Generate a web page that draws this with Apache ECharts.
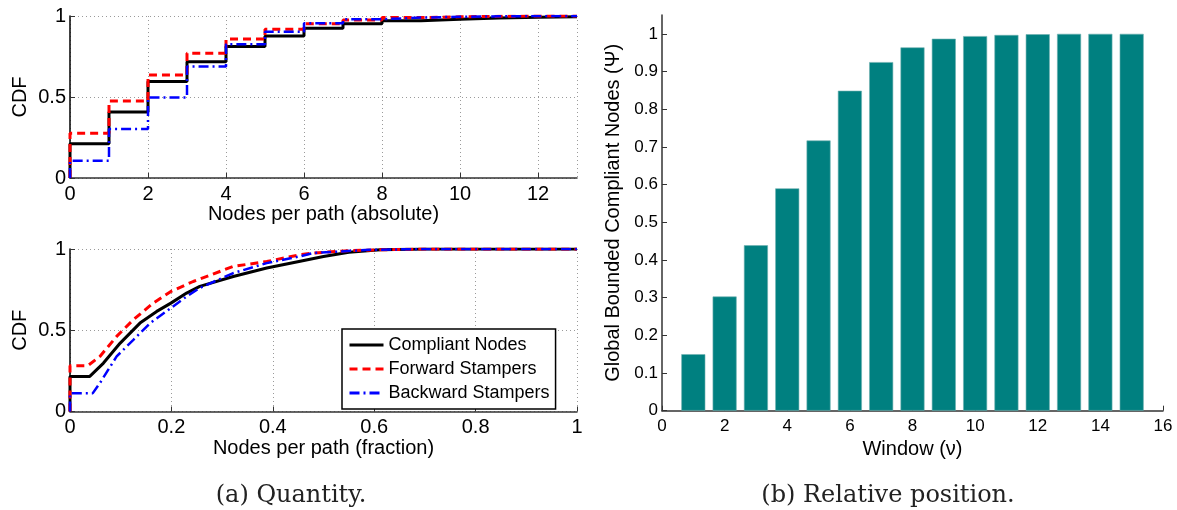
<!DOCTYPE html>
<html>
<head>
<meta charset="utf-8">
<script src="https://cdn.jsdelivr.net/npm/echarts@6/dist/echarts.min.js"></script>
<style>
  html, body { margin: 0; padding: 0; background: #fff; }
  #chart { width: 1177px; height: 510px; }
</style>
</head>
<body>
<div id="chart"></div>
<script>
const seriesNames = ["Compliant Nodes", "Forward Stampers", "Backward Stampers"];

// (a) top: CDF of absolute nodes per path, value held on [k, k+1)
const absX = [0, 1, 2, 3, 4, 5, 6, 7, 8, 9, 10, 11, 12, 13];
const absCompliant = [0.211, 0.407, 0.595, 0.718, 0.811, 0.877, 0.924, 0.952, 0.970, 0.980, 0.987, 0.993, 0.996, 0.996];
const absForward = [0.277, 0.476, 0.636, 0.770, 0.858, 0.918, 0.952, 0.975, 0.990, 0.995, 0.998, 1.0, 1.0, 1.0];
const absBackward = [0.107, 0.302, 0.497, 0.688, 0.825, 0.903, 0.955, 0.980, 0.990, 0.995, 0.998, 1.0, 1.0, 1.0];

// (a) bottom: CDF of fraction of nodes per path
const fracCompliantX = [0, 0, 0.039, 0.066, 0.099, 0.138, 0.171, 0.199, 0.230, 0.256, 0.322, 0.388, 0.454, 0.50, 0.55, 0.612, 0.70, 1.0];
const fracCompliantY = [0, 0.215, 0.216, 0.298, 0.421, 0.544, 0.616, 0.667, 0.729, 0.770, 0.831, 0.883, 0.925, 0.954, 0.980, 0.995, 1.0, 1.0];
const fracForwardX = [0, 0, 0.035, 0.059, 0.092, 0.125, 0.164, 0.199, 0.243, 0.322, 0.388, 0.454, 0.48, 0.55, 0.612, 0.70, 1.0];
const fracForwardY = [0, 0.281, 0.282, 0.339, 0.462, 0.565, 0.667, 0.739, 0.800, 0.893, 0.923, 0.965, 0.975, 0.990, 0.995, 1.0, 1.0];
const fracBackwardX = [0, 0, 0.045, 0.059, 0.092, 0.125, 0.158, 0.199, 0.230, 0.256, 0.322, 0.388, 0.454, 0.48, 0.59, 0.70, 1.0];
const fracBackwardY = [0, 0.112, 0.113, 0.175, 0.339, 0.441, 0.544, 0.637, 0.708, 0.760, 0.852, 0.913, 0.955, 0.975, 0.995, 1.0, 1.0];

// (b) global bounded compliant nodes per window
const windows = [1, 2, 3, 4, 5, 6, 7, 8, 9, 10, 11, 12, 13, 14, 15];
const psiValues = [0.150, 0.303, 0.439, 0.590, 0.717, 0.849, 0.925, 0.964, 0.987, 0.994, 0.997, 0.999, 1.0, 1.0, 1.0];

const zip = (xs, ys) => xs.map((x, i) => [x, ys[i]]);

const font = "Liberation Sans";
const colors = ["#000000", "#ff0000", "#0000ff"];
const lineStyles = [
  { width: 3, type: "solid" },
  { width: 3, type: [8, 5] },
  { width: 2.5, type: [10, 4, 2, 4] },
];

const dotted = { show: true, lineStyle: { color: "#9a9a9a", type: [1, 3], width: 1 } };
const tickInside = { show: true, inside: true, length: 5, lineStyle: { color: "#333" } };

function leftAxes(gridIndex, xMax, xInterval, showMax, xName, nameGap) {
  return {
    x: {
      type: "value", gridIndex, min: 0, max: xMax, interval: xInterval,
      name: xName, nameLocation: "middle", nameGap,
      nameTextStyle: { fontFamily: font, fontSize: 20, color: "#000" },
      axisLine: { show: true, lineStyle: { color: "#333", width: 1.5 } },
      axisTick: tickInside,
      axisLabel: { fontFamily: font, fontSize: 20, color: "#000", margin: 6, showMaxLabel: showMax },
      splitLine: dotted,
    },
    y: {
      type: "value", gridIndex, min: 0, max: 1, interval: 0.5,
      name: "CDF", nameLocation: "middle", nameGap: 40,
      nameTextStyle: { fontFamily: font, fontSize: 20, color: "#000" },
      axisLine: { show: true, lineStyle: { color: "#000", width: 1.5 } },
      axisTick: tickInside,
      axisLabel: { fontFamily: font, fontSize: 20, color: "#000", margin: 4 },
      splitLine: dotted,
    },
  };
}

const absAxes = leftAxes(0, 13, 2, false, "Nodes per path (absolute)", 24);
const fracAxes = leftAxes(1, 1, 0.2, true, "Nodes per path (fraction)", 22);

const absSets = [absCompliant, absForward, absBackward];
const fracSets = [zip(fracCompliantX, fracCompliantY), zip(fracForwardX, fracForwardY), zip(fracBackwardX, fracBackwardY)];

const series = [];
absSets.forEach((vals, i) => {
  series.push({
    name: seriesNames[i], type: "line", xAxisIndex: 0, yAxisIndex: 0,
    step: "end", symbol: "none", animation: false,
    data: [[0, 0]].concat(zip(absX, vals)),
    lineStyle: Object.assign({ color: colors[i] }, lineStyles[i]),
    itemStyle: { color: colors[i] },
  });
});
fracSets.forEach((pts, i) => {
  series.push({
    name: seriesNames[i], type: "line", xAxisIndex: 1, yAxisIndex: 1,
    symbol: "none", animation: false, data: pts,
    lineStyle: Object.assign({ color: colors[i] }, lineStyles[i]),
    itemStyle: { color: colors[i] },
  });
});
series.push({
  type: "bar", xAxisIndex: 2, yAxisIndex: 2, barWidth: 24, animation: false,
  data: zip(windows, psiValues),
  itemStyle: { color: "#008080", borderColor: "#6fb0b0", borderWidth: 0.6 },
});

const chart = echarts.init(document.getElementById("chart"), null, { renderer: "canvas" });
chart.setOption({
  backgroundColor: "#fff",
  grid: [
    { left: 70, top: 16, width: 507, height: 162 },
    { left: 70, top: 249, width: 507, height: 162.5 },
    { left: 662, top: 15, width: 501, height: 395.7 },
  ],
  xAxis: [
    absAxes.x, fracAxes.x,
    {
      type: "value", gridIndex: 2, min: 0, max: 16, interval: 2,
      name: "Window (\u03bd)", nameLocation: "middle", nameGap: 21,
      nameTextStyle: { fontFamily: font, fontSize: 20, color: "#000" },
      axisLine: { show: true, lineStyle: { color: "#333", width: 1.5 } },
      axisTick: tickInside,
      axisLabel: { fontFamily: font, fontSize: 17, color: "#000", margin: 7 },
      splitLine: { show: false },
    },
  ],
  yAxis: [
    absAxes.y, fracAxes.y,
    {
      type: "value", gridIndex: 2, min: 0, max: 1.05, interval: 0.1,
      name: "Global Bounded Compliant Nodes (\u03a8)", nameLocation: "middle", nameGap: 39,
      nameTextStyle: { fontFamily: font, fontSize: 20, color: "#000" },
      axisLine: { show: true, lineStyle: { color: "#333", width: 1.5 } },
      axisTick: tickInside,
      axisLabel: { fontFamily: font, fontSize: 17, color: "#000", margin: 4, showMaxLabel: false },
      splitLine: { show: false },
    },
  ],
  legend: {
    data: seriesNames,
    orient: "vertical",
    left: 342, top: 329,
    padding: [7, 6, 7, 6],
    itemWidth: 34, itemHeight: 14, itemGap: 6,
    itemStyle: { opacity: 0 },
    lineStyle: { width: 3 },
    borderColor: "#000", borderWidth: 1.5, backgroundColor: "#fff",
    textStyle: { fontFamily: font, fontSize: 18, lineHeight: 18, color: "#000" },
  },
  graphic: [
    {
      type: "text", x: 291, y: 496,
      style: { text: "(a) Quantity.", font: "24px 'DejaVu Serif'", fill: "#222", align: "center", verticalAlign: "middle" },
    },
    {
      type: "text", x: 888, y: 496,
      style: { text: "(b) Relative position.", font: "24px 'DejaVu Serif'", fill: "#222", align: "center", verticalAlign: "middle" },
    },
  ],
  series,
});
</script>
</body>
</html>
